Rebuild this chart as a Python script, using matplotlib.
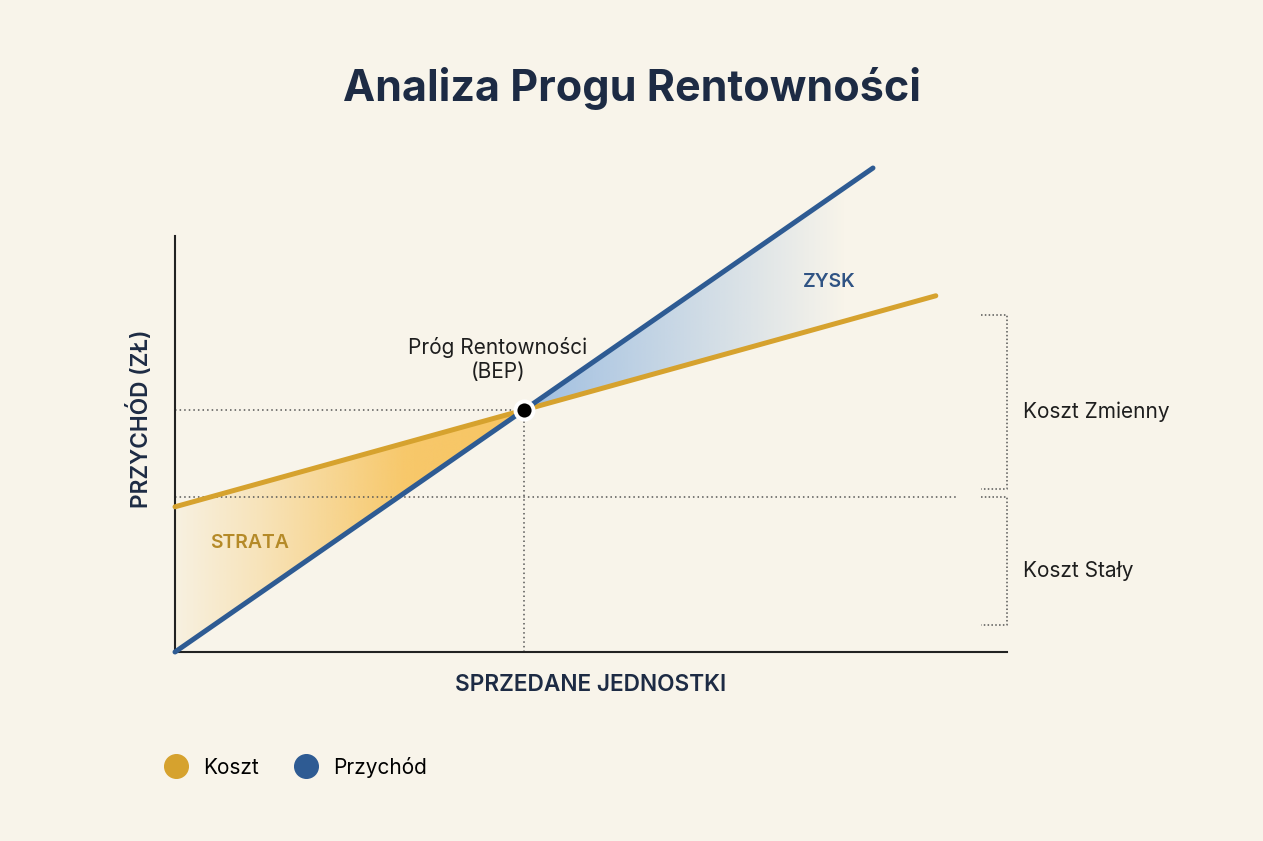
"""
Break-even chart: cost and revenue lines, loss / profit areas with soft
gradient fills, break-even point and fixed / variable cost brackets.
"""

import numpy as np
import matplotlib.pyplot as plt
from matplotlib.patches import Polygon
from matplotlib.lines import Line2D
from matplotlib.colors import to_rgb

# --- data ---------------------------------------------------------------
units_revenue = [0, 500, 1000]
revenue = [0, 50000, 100000]
units_cost = [0, 500, 1090]
cost = [30000, 50000, 73600]

bep_units = 500
bep_value = 50000
fixed_cost_guide = 32000

bracket_variable = [33700, 69600]
bracket_fixed = [5600, 32000]

x_max = 1192
y_axis_top = 86000

title = "Analiza Progu Rentowności"
x_label = "SPRZEDANE JEDNOSTKI"
y_label = "PRZYCHÓD (ZŁ)"
series_names = ["Koszt", "Przychód"]

# --- style --------------------------------------------------------------
BG = "#F8F4EA"
GOLD = "#D6A22E"
BLUE = "#2E5B93"
NAVY = "#1D2B44"
INK = "#1E1E1E"

plt.rcParams["font.family"] = ["Inter", "DejaVu Sans"]


def gradient_fill(ax, verts, color, x_stops, a_stops):
    """Fill a polygon with a colour whose alpha changes along x."""
    verts = np.asarray(verts, dtype=float)
    x0, x1 = verts[:, 0].min(), verts[:, 0].max()
    y0, y1 = verts[:, 1].min(), verts[:, 1].max()
    xs = np.linspace(x0, x1, 400)
    img = np.zeros((2, len(xs), 4))
    img[..., :3] = to_rgb(color)
    img[..., 3] = np.interp(xs, x_stops, a_stops)[None, :]
    im = ax.imshow(img, extent=[x0, x1, y0, y1], origin="lower",
                   aspect="auto", interpolation="bilinear", zorder=1)
    poly = Polygon(verts, closed=True, facecolor="none", edgecolor="none")
    ax.add_patch(poly)
    im.set_clip_path(poly)


fig = plt.figure(figsize=(12.63, 8.41), dpi=100, facecolor=BG)
ax = fig.add_axes([175 / 1263, 189 / 841, 832 / 1263, 502 / 841])
ax.set_facecolor(BG)
ax.set_xlim(0, x_max)
ax.set_ylim(0, 502 / 0.00484)

# loss area (cost above revenue, left of BEP)
loss_x = [units_revenue[0], bep_units]
loss_top = np.interp(loss_x, units_cost, cost)
loss_bot = np.interp(loss_x, units_revenue, revenue)
loss_verts = list(zip(loss_x, loss_top)) + list(zip(loss_x[::-1], loss_bot[::-1]))
gradient_fill(ax, loss_verts, "#F7BD4A",
              [0, 120, 330, 500], [0.06, 0.3, 0.8, 0.85])

# profit area (revenue above cost, right of BEP)
profit_verts = [(bep_units, bep_value),
                (units_revenue[-1], revenue[-1]),
                (units_cost[-1], cost[-1])]
gradient_fill(ax, profit_verts, "#94B8E0",
              [bep_units, 650, 820, 960, 1090], [0.9, 0.6, 0.28, 0.0, 0.0])

# guide lines
ax.plot([0, bep_units], [bep_value, bep_value], ls=(0, (1, 2)), lw=1.1,
        color="#555555", zorder=2)
ax.plot([bep_units, bep_units], [0, bep_value], ls=(0, (1, 2)), lw=1.1,
        color="#555555", zorder=2)
ax.plot([0, 1120], [fixed_cost_guide, fixed_cost_guide], ls=(0, (1, 2)),
        lw=1.1, color="#555555", zorder=2)

# main lines
ax.plot(units_cost, cost, color=GOLD, lw=3.6, solid_capstyle="round",
        zorder=3, clip_on=False)
ax.plot(units_revenue, revenue, color=BLUE, lw=3.6, solid_capstyle="round",
        zorder=4, clip_on=False)

# break-even point
ax.plot([bep_units], [bep_value], "o", ms=13, color="black",
        mec="white", mew=2.8, zorder=6)
ax.annotate("Próg Rentowności\n(BEP)", (bep_units, bep_value),
            xytext=(-26, 28), textcoords="offset pixels",
            ha="center", va="bottom", fontsize=15, color=INK,
            linespacing=1.25)

# area labels
ax.text(107, 22500, "STRATA", ha="center", va="center", fontsize=14,
        fontweight="semibold", color="#B58A28", zorder=5)
ax.text(937, 76450, "ZYSK", ha="center", va="center", fontsize=14,
        fontweight="semibold", color="#2F5384", zorder=5)

# cost brackets
tick_x = x_max - 37
for lo, hi in [bracket_variable, bracket_fixed]:
    ax.plot([tick_x, x_max, x_max, tick_x], [hi, hi, lo, lo],
            ls=(0, (1, 1.5)), lw=1.1, color="#555555", clip_on=False)
ax.text(x_max + 23, np.mean(bracket_variable) - 2000, "Koszt Zmienny",
        ha="left", va="center", fontsize=15, color=INK)
ax.text(x_max + 23, np.mean(bracket_fixed) - 2000, "Koszt Stały",
        ha="left", va="center", fontsize=15, color=INK)

# axes
for side in ["top", "right"]:
    ax.spines[side].set_visible(False)
ax.spines["left"].set_bounds(0, y_axis_top)
ax.spines["bottom"].set_bounds(0, x_max)
for side in ["left", "bottom"]:
    ax.spines[side].set_linewidth(1.5)
    ax.spines[side].set_color("#222222")
ax.set_xticks([])
ax.set_yticks([])

fig.text(591 / 1263, 1 - 685 / 841, x_label, ha="center", va="center",
         fontsize=16.3, fontweight="semibold", color=NAVY)
fig.text(140 / 1263, 1 - 419 / 841, y_label, ha="center", va="center",
         rotation=90, fontsize=16.3, fontweight="semibold", color=NAVY)
fig.text(632 / 1263, 1 - 88 / 841, title, ha="center", va="center",
         fontsize=31, fontweight="bold", color=NAVY)

handles = [Line2D([], [], ls="none", marker="o", ms=17, color=GOLD),
           Line2D([], [], ls="none", marker="o", ms=17, color=BLUE)]
fig.legend(handles, series_names, loc="center left",
           bbox_to_anchor=(164 / 1263, 1 - 767 / 841), ncol=2,
           frameon=False, fontsize=15, borderpad=0, borderaxespad=0,
           handlelength=1.15, handletextpad=0.75, columnspacing=1.65)

fig.savefig("out.png", dpi=100, facecolor=BG)
